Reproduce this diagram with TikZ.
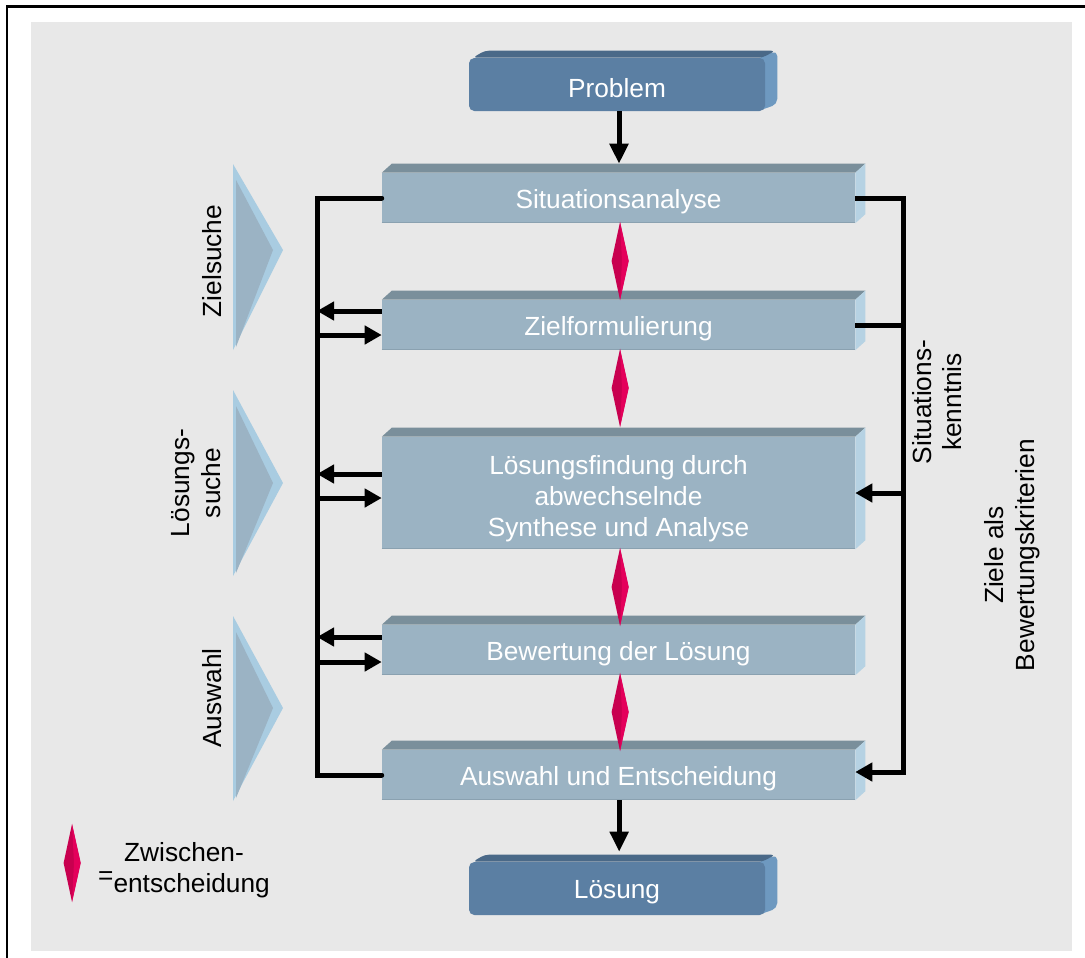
\documentclass[tikz,border=0pt]{standalone}
\usepackage{fontspec}
\setmainfont{Liberation Sans}
\usetikzlibrary{arrows.meta,calc,shapes.geometric}
\pgfdeclarelayer{bg}
\pgfdeclarelayer{back}
\pgfsetlayers{bg,back,main}

\definecolor{canvas}{HTML}{E8E8E8}
\definecolor{dfront}{HTML}{5B7FA3}
\definecolor{dtop}{HTML}{4A6988}
\definecolor{dside}{HTML}{6E99C0}
\definecolor{lfront}{HTML}{9BB3C3}
\definecolor{ltop}{HTML}{7A8F9B}
\definecolor{lside}{HTML}{B6D2E3}
\definecolor{ledge}{HTML}{8AA1B0}
\definecolor{rubyL}{HTML}{C8004F}
\definecolor{rubyR}{HTML}{E4005B}
\definecolor{chevOut}{HTML}{A9CCE1}
\definecolor{chevIn}{HTML}{9BB3C4}

\newcommand\lblfont{\fontsize{19.7}{23}\selectfont}

% faces of a light step box (top bevel and right side)
\newcommand\lightfaces[1]{%
  \begin{pgfonlayer}{back}
    \fill[ltop] (#1.north west) -- ++(10,-9) -- ($(#1.north east)+(10,-9)$) -- (#1.north east) -- cycle;
    \fill[lside] (#1.north east) -- ++(10,-9) -- ($(#1.south east)+(10,-9)$) -- (#1.south east) -- cycle;
  \end{pgfonlayer}
  \draw[ledge, line width=1.2pt] ([yshift=0.5pt]#1.south west) -- ([yshift=0.5pt]#1.south east);
}
% faces of a dark rounded terminal box
\newcommand\darkfaces[1]{%
  \begin{pgfonlayer}{back}
    \fill[dside, rounded corners=4pt] ($(#1.north east)+(-8,0)$) -- ++(20,-7) -- ($(#1.south east)+(12,-7)$) -- ($(#1.south east)+(-8,0)$) -- cycle;
    \fill[dtop, rounded corners=3pt] ($(#1.north west)+(4,0)$) -- ++(12,-7) -- ($(#1.north east)+(10,-7)$) -- ($(#1.north east)+(-3,0)$) -- cycle;
  \end{pgfonlayer}
}

\begin{document}
\begin{tikzpicture}[x=0.75pt, y=-0.75pt,
  lbox/.style={fill=lfront, minimum width=354.75pt, minimum height=37.5pt,
    text=white, font=\lblfont, align=center, inner sep=0pt},
  one/.style={text height=15pt, text depth=0pt},
  dbox/.style={fill=dfront, rounded corners=4pt, minimum width=222pt, minimum height=39.75pt,
    text=white, font=\lblfont, inner sep=0pt},
  lab/.style={font=\lblfont, text=black, align=center, inner sep=0pt},
  gem/.style={diamond, fill=rubyL, inner sep=0pt, minimum width=12.75pt, minimum height=58.5pt},
  flow/.style={line width=3.75pt},
  varr/.style={flow, -{Triangle[length=15pt,width=13.5pt]}},
  harr/.style={flow, -{Triangle[length=12.75pt,width=13.5pt]}}]

\useasboundingbox (0,0) rectangle (1085,957);

\begin{pgfonlayer}{bg}
  \fill[canvas] (31,22) rectangle (1072,951);
  \draw[line width=1.6pt] (7,980) -- (7,6.5) -- (1100,6.5);
\end{pgfonlayer}

% phase chevrons on the left
\fill[chevOut] (233,164) -- (283,250) -- (233,350) -- cycle;
\fill[chevIn] (236,180) -- (273,250) -- (236,347) -- cycle;
\fill[chevOut] (233,390) -- (283,483) -- (233,576) -- cycle;
\fill[chevIn] (236,406) -- (273,483) -- (236,573) -- cycle;
\fill[chevOut] (233,616) -- (283,708) -- (233,801) -- cycle;
\fill[chevIn] (236,632) -- (273,708) -- (236,798) -- cycle;

% process steps
\node[dbox, text height=20pt, text depth=0pt] (prob) at (617,84.5) {Problem};
\node[lbox, one] (sit) at (618.5,198) {Situationsanalyse};
\node[lbox, one] (zf) at (618.5,325) {Zielformulierung};
\node[lbox, minimum height=84pt] (lf) at (618.5,493) {\rule{0pt}{23pt}Lösungsfindung durch\\abwechselnde\\Synthese und Analyse};
\node[lbox, one] (bw) at (618.5,650) {Bewertung der Lösung};
\node[lbox, one] (aus) at (618.5,775) {Auswahl und Entscheidung};
\node[dbox, one] (lsg) at (617,888.5) {Lösung};

\darkfaces{prob}
\lightfaces{sit}
\lightfaces{zf}
\lightfaces{lf}
\lightfaces{bw}
\lightfaces{aus}
\darkfaces{lsg}

% intermediate decisions
\node[gem] (g1) at (620,261) {};
\node[gem] (g2) at (620,388) {};
\node[gem] (g3) at (620,587) {};
\node[gem] (g4) at (620,712) {};
\node[gem] (key) at (72,863) {};
\foreach \g in {g1,g2,g3,g4,key}{
  \fill[rubyR] (\g.north) -- (\g.east) -- (\g.south) -- ([xshift=1.5pt]\g.center) -- cycle;
}

% main flow
\coordinate (p1) at ([xshift=1.5pt]prob.south);
\coordinate (p2) at ([xshift=0.5pt]aus.south);
\draw[varr] (p1) -- ($(p1 |- sit.north)+(0,-9)$);
\draw[varr] (p2) -- ($(p2 |- lsg.north)+(0,-10)$);

% left feedback bus
\coordinate (lb) at (317,0);
\coordinate (rb) at (903,0);
\draw[flow, line cap=round] (sit.west) -- (lb |- sit.west) -- (lb |- aus.west) -- (aus.west);
\draw[harr] (zf.west |- 0,311) -- (lb |- 0,311);
\draw[harr] (lb |- 0,335) -- (zf.west |- 0,335);
\draw[harr] (lf.west |- 0,474) -- (lb |- 0,474);
\draw[harr] (lb |- 0,498) -- (lf.west |- 0,498);
\draw[harr] (bw.west |- 0,637) -- (lb |- 0,637);
\draw[harr] (lb |- 0,662) -- (bw.west |- 0,662);

% right knowledge bus
\draw[harr] (sit.east) -- (rb |- sit.east) -- (rb |- 0,772) -- (aus.east |- 0,772);
\draw[flow] (zf.east) -- (rb |- zf.east);
\draw[harr] (rb |- lf.east) -- (lf.east);

% labels
\node[lab, rotate=90] (zs) at (212,261) {Zielsuche};
\node[lab, rotate=90] (ls) at (196,483) {Lösungs-\\suche};
\node[lab, rotate=90] (aw) at (212,698) {Auswahl};
\node[lab, rotate=90] (sk) at (937,402) {Situations-\\kenntnis};
\node[lab, rotate=90] (zb) at (1012,555) {Ziele als\\Bewertungskriterien};
\node[lab] (zw) at (184,870) {Zwischen-\\\raisebox{6pt}{=}entscheidung};

\end{tikzpicture}
\end{document}
